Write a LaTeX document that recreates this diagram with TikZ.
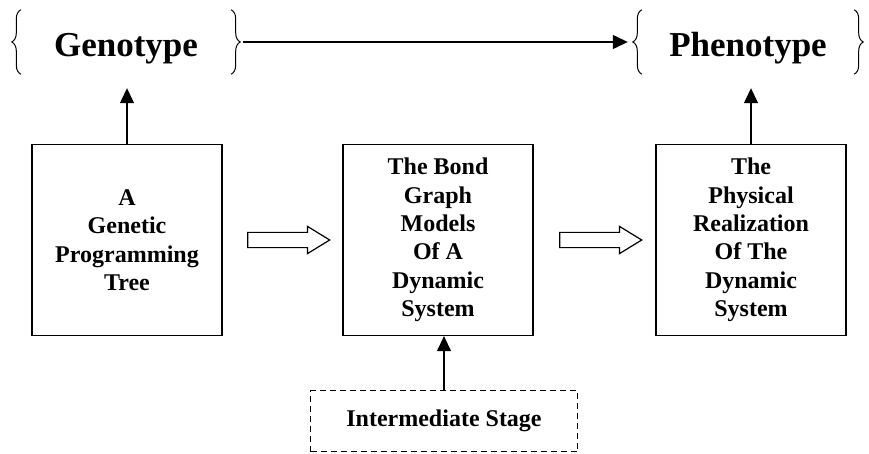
\documentclass[tikz,border=0pt]{standalone}
\usepackage{fontspec}
\setmainfont{Liberation Serif}
\usetikzlibrary{arrows.meta, positioning, calc, shapes.arrows, decorations.pathreplacing}

\begin{document}
\begin{tikzpicture}[x=1pt, y=-1pt,
    box/.style={draw, line width=1.3pt, minimum width=190pt, minimum height=191pt, align=center, inner sep=0pt, font=\fontsize{24}{28.4}\selectfont\bfseries},
    stagebox/.style={draw, line width=1.3pt, dash pattern=on 6pt off 4pt, minimum width=267pt, minimum height=61pt, inner sep=0pt, font=\fontsize{24}{28.4}\selectfont\bfseries},
    label/.style={font=\fontsize{35}{40}\selectfont\bfseries, text height=47pt, text depth=17pt, inner sep=0pt},
    curly/.style={decorate, decoration={brace, amplitude=9pt}, line width=1pt},
    arrow/.style={-{Triangle[length=15pt, width=14pt]}, line width=1.3pt},
    fatarrow/.style={draw, line width=1.2pt, single arrow, single arrow head extend=6pt, single arrow tip angle=63, inner xsep=0pt, inner ysep=7pt, minimum height=82pt}
]
    \useasboundingbox (0,0) rectangle (869,454);

    % genotype / phenotype
    \node[label, minimum width=228pt] (geno) at (126,42) {Genotype};
    \node[label, minimum width=230pt] (pheno) at (748,42) {Phenotype};
    \draw[curly] ([xshift=9pt]geno.south west) -- ([xshift=9pt]geno.north west);
    \draw[curly] ([xshift=-9pt]geno.north east) -- ([xshift=-9pt]geno.south east);
    \draw[curly] ([xshift=9pt]pheno.south west) -- ([xshift=9pt]pheno.north west);
    \draw[curly] ([xshift=-9pt]pheno.north east) -- ([xshift=-9pt]pheno.south east);
    \draw[arrow, shorten <=3pt, shorten >=5pt] (geno) -- (pheno);

    % the three stages
    \node[box] (tree) at (127,240) {A\\Genetic\\Programming\\Tree};
    \node[box] (bond) at (438,240) {The Bond\\Graph\\Models\\Of A\\Dynamic\\System};
    \node[box] (real) at (751,240) {The\\Physical\\Realization\\Of The\\Dynamic\\System};
    \node[stagebox] (stage) at (444,421) {Intermediate Stage};

    \node[fatarrow] (step1) at ($(tree.east)!0.5!(bond.west)$) {};
    \node[fatarrow] (step2) at ($(bond.east)!0.5!(real.west)$) {};

    \draw[arrow, shorten >=14pt] (tree.north) -- (tree.north |- geno.south);
    \draw[arrow, shorten >=14pt] (real.north) -- (real.north |- pheno.south);
    \draw[arrow] (stage.north) -- (stage.north |- bond.south);
\end{tikzpicture}
\end{document}
